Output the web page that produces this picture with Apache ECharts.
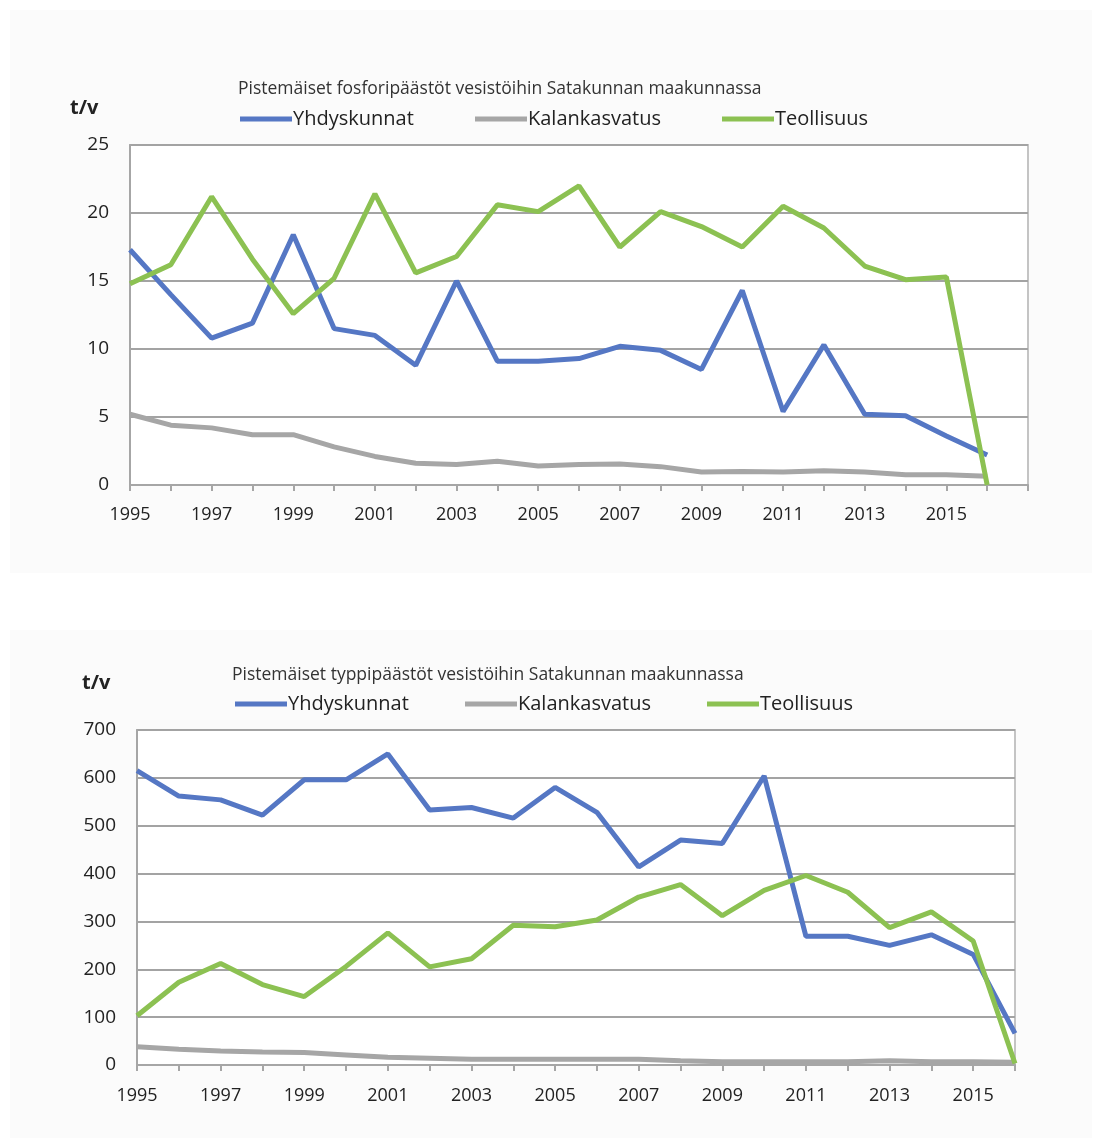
<!DOCTYPE html>
<html>
<head>
<meta charset="utf-8">
<script src="https://cdn.jsdelivr.net/npm/echarts@6/dist/echarts.min.js"></script>
<style>
  html, body { margin: 0; padding: 0; background: #fff; }
  #main { width: 1105px; height: 1138px; }
</style>
</head>
<body>
<div id="main"></div>
<script>
// vuodet
var yearsP = ['1995','1996','1997','1998','1999','2000','2001','2002','2003','2004','2005',
  '2006','2007','2008','2009','2010','2011','2012','2013','2014','2015','2016','2017'];
var yearsN = yearsP.slice(0, 22);

// fosfori t/v
var fosforiYhdyskunnat = [17.3, 14.0, 10.8, 11.9, 18.4, 11.5, 11.0, 8.8, 15.0, 9.1, 9.1,
  9.3, 10.2, 9.9, 8.5, 14.3, 5.4, 10.3, 5.2, 5.1, 3.6, 2.2];
var fosforiKalankasvatus = [5.2, 4.4, 4.2, 3.7, 3.7, 2.8, 2.1, 1.6, 1.5, 1.75, 1.4,
  1.5, 1.55, 1.35, 0.95, 1.0, 0.95, 1.05, 0.95, 0.75, 0.75, 0.65];
var fosforiTeollisuus = [14.8, 16.2, 21.2, 16.6, 12.6, 15.2, 21.4, 15.6, 16.8, 20.6, 20.1,
  22.0, 17.5, 20.1, 19.0, 17.5, 20.5, 18.9, 16.1, 15.1, 15.3, 0];

// typpi t/v
var typpiYhdyskunnat = [615, 562, 554, 522, 596, 596, 650, 533, 538, 516, 580,
  528, 414, 470, 463, 604, 269, 269, 250, 272, 231, 66];
var typpiKalankasvatus = [38, 33, 29, 27, 26, 21, 16, 14, 12, 12, 12,
  12, 12, 9, 7, 7, 7, 7, 9, 7, 7, 6];
var typpiTeollisuus = [103, 173, 212, 168, 143, 206, 276, 205, 222, 292, 289,
  303, 351, 377, 312, 365, 396, 361, 287, 320, 259, 3];

var seriesNames = ['Yhdyskunnat', 'Kalankasvatus', 'Teollisuus'];
var colors = ['#5577c4', '#a6a6a6', '#8cc152'];

var font = '"Open Sans", "Liberation Sans", sans-serif';
var chart = echarts.init(document.getElementById('main'));

function yAxis(gridIndex, max, interval) {
  return {
    type: 'value', gridIndex: gridIndex, min: 0, max: max, interval: interval,
    axisLine: { show: true, lineStyle: { color: '#a6a6a6', width: 2 } },
    axisTick: { show: false },
    axisLabel: { color: '#222', fontSize: 19, fontFamily: font, margin: 21 },
    splitLine: { lineStyle: { color: '#a3a3a3', width: 2 } }
  };
}

function xAxis(gridIndex, data, margin) {
  return {
    type: 'category', gridIndex: gridIndex, data: data, boundaryGap: false,
    axisLine: { lineStyle: { color: '#a6a6a6', width: 2 } },
    axisTick: { show: true, length: 6, interval: 0, lineStyle: { color: '#a6a6a6', width: 2 } },
    axisLabel: {
      color: '#222', fontSize: 18, fontFamily: font, margin: margin,
      interval: function (i) { return i % 2 === 0 && i < 21; }
    }
  };
}

function line(name, idx, data, color) {
  return {
    name: name, type: 'line', xAxisIndex: idx, yAxisIndex: idx, data: data,
    symbol: 'none', lineStyle: { color: color, width: 5 }, itemStyle: { color: color },
    z: name === 'Kalankasvatus' ? 2 : 3
  };
}

function legend(name, left, top) {
  return {
    data: [name], left: left, top: top, padding: 0, icon: 'rect', itemWidth: 52, itemHeight: 5,
    itemGap: 0, textStyle: { color: '#222', fontSize: 20, fontFamily: font, padding: [0, 0, 0, -4] },
    selectedMode: false
  };
}

var option = {
  animation: false,
  graphic: [
    { type: 'rect', shape: { x: 10, y: 10, width: 1082, height: 563 }, style: { fill: '#fbfbfb' }, z: -10 },
    { type: 'rect', shape: { x: 10, y: 630, width: 1082, height: 508 }, style: { fill: '#fbfbfb' }, z: -10 }
  ],
  title: [
    { text: 'Pistemäiset fosforipäästöt vesistöihin Satakunnan maakunnassa', left: 238, top: 80,
      padding: 0, textStyle: { fontSize: 17.5, fontWeight: 'normal', color: '#333', fontFamily: font } },
    { text: 't/v', left: 70, top: 98, padding: 0,
      textStyle: { fontSize: 20, fontWeight: 'bold', color: '#222', fontFamily: font } },
    { text: 'Pistemäiset typpipäästöt vesistöihin Satakunnan maakunnassa', left: 232, top: 666,
      padding: 0, textStyle: { fontSize: 17.5, fontWeight: 'normal', color: '#333', fontFamily: font } },
    { text: 't/v', left: 82, top: 673, padding: 0,
      textStyle: { fontSize: 20, fontWeight: 'bold', color: '#222', fontFamily: font } }
  ],
  legend: [
    legend(seriesNames[0], 240, 109), legend(seriesNames[1], 475, 109), legend(seriesNames[2], 722, 109),
    legend(seriesNames[0], 235, 694), legend(seriesNames[1], 465, 694), legend(seriesNames[2], 707, 694)
  ],
  grid: [
    { left: 130, top: 145, width: 898, height: 340, show: true, backgroundColor: '#fff', borderColor: '#c4c4c4', borderWidth: 2 },
    { left: 137, top: 730, width: 878, height: 335, show: true, backgroundColor: '#fff', borderColor: '#c4c4c4', borderWidth: 2 }
  ],
  xAxis: [xAxis(0, yearsP, 21), xAxis(1, yearsN, 22)],
  yAxis: [yAxis(0, 25, 5), yAxis(1, 700, 100)],
  series: [
    line(seriesNames[1], 0, fosforiKalankasvatus, colors[1]),
    line(seriesNames[0], 0, fosforiYhdyskunnat, colors[0]),
    line(seriesNames[2], 0, fosforiTeollisuus, colors[2]),
    line(seriesNames[1], 1, typpiKalankasvatus, colors[1]),
    line(seriesNames[0], 1, typpiYhdyskunnat, colors[0]),
    line(seriesNames[2], 1, typpiTeollisuus, colors[2])
  ]
};

chart.setOption(option);
</script>
</body>
</html>
